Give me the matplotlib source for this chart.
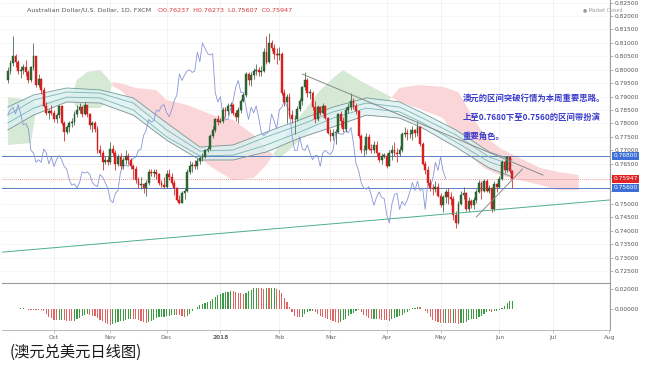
import numpy as np
import pandas as pd
import matplotlib
matplotlib.use("Agg")
import matplotlib.pyplot as plt

CJK = ['Noto Sans CJK SC', 'DejaVu Sans']

# daily AUD/USD candles, 2017-09-06 .. 2018-06-08 (weekdays)
first_open = 0.7960
closes = [
    # Sep
    0.7995, 0.8025, 0.8050, 0.8030, 0.7995, 0.8000, 0.8010, 0.7990, 0.7960, 0.8010,
    0.8050, 0.7945, 0.7965, 0.7925, 0.7865, 0.7840, 0.7845, 0.7840,
    # Oct
    0.7815, 0.7830, 0.7865, 0.7800, 0.7770, 0.7785, 0.7800, 0.7805, 0.7835, 0.7850,
    0.7860, 0.7835, 0.7870, 0.7835, 0.7795, 0.7800, 0.7780, 0.7700, 0.7690, 0.7655,
    0.7665, 0.7655,
    # Nov
    0.7705, 0.7690, 0.7650, 0.7675, 0.7640, 0.7665, 0.7680, 0.7665, 0.7640, 0.7630,
    0.7590, 0.7570, 0.7575, 0.7560, 0.7580, 0.7620, 0.7615, 0.7620, 0.7610, 0.7580,
    0.7570, 0.7565,
    # Dec
    0.7610, 0.7600, 0.7580, 0.7560, 0.7515, 0.7505, 0.7540, 0.7550, 0.7620, 0.7640,
    0.7645, 0.7640, 0.7660, 0.7670, 0.7675, 0.7700, 0.7705, 0.7755, 0.7775, 0.7815,
    0.7805,
    # Jan
    0.7810, 0.7850, 0.7845, 0.7865, 0.7870, 0.7840, 0.7825, 0.7850, 0.7885, 0.7905,
    0.7985, 0.7960, 0.7980, 0.7995, 0.8000, 0.7990, 0.7995, 0.8065, 0.8030, 0.8100,
    0.8080, 0.8060, 0.8055,
    # Feb
    0.8060, 0.7915, 0.7880, 0.7900, 0.7830, 0.7815, 0.7815, 0.7855, 0.7885, 0.7935,
    0.7960, 0.7915, 0.7915, 0.7860, 0.7815, 0.7860, 0.7840, 0.7865, 0.7820, 0.7765,
    # Mar
    0.7755, 0.7765, 0.7770, 0.7835, 0.7810, 0.7780, 0.7850, 0.7860, 0.7885, 0.7865,
    0.7845, 0.7755, 0.7700, 0.7700, 0.7750, 0.7705, 0.7700, 0.7720, 0.7690, 0.7665,
    0.7680, 0.7680,
    # Apr
    0.7640, 0.7690, 0.7700, 0.7690, 0.7685, 0.7700, 0.7760, 0.7765, 0.7760, 0.7760,
    0.7775, 0.7765, 0.7785, 0.7725, 0.7650, 0.7625, 0.7580, 0.7560, 0.7555, 0.7565,
    0.7530,
    # May
    0.7495, 0.7525, 0.7545, 0.7525, 0.7520, 0.7460, 0.7430, 0.7500, 0.7535, 0.7540,
    0.7480, 0.7510, 0.7495, 0.7515, 0.7545, 0.7580, 0.7550, 0.7585, 0.7550, 0.7560,
    0.7480, 0.7575, 0.7565,
    # Jun
    0.7595, 0.7655, 0.7625, 0.7675, 0.76237, 0.75947,
]
highs = [
    0.8010, 0.8035, 0.8125, 0.8060, 0.8035, 0.8015, 0.8020, 0.8035, 0.8000, 0.8015,
    0.8100, 0.8050, 0.7985, 0.7970, 0.7935, 0.7880, 0.7855, 0.7870,
    0.7850, 0.7840, 0.7870, 0.7870, 0.7810, 0.7795, 0.7810, 0.7820, 0.7845, 0.7870,
    0.7875, 0.7865, 0.7880, 0.7870, 0.7840, 0.7810, 0.7810, 0.7790, 0.7720, 0.7700,
    0.7680, 0.7680,
    0.7730, 0.7720, 0.7700, 0.7685, 0.7690, 0.7675, 0.7700, 0.7690, 0.7670, 0.7650,
    0.7640, 0.7600, 0.7600, 0.7580, 0.7590, 0.7630, 0.7630, 0.7630, 0.7630, 0.7615,
    0.7590, 0.7600,
    0.7625, 0.7630, 0.7615, 0.7590, 0.7565, 0.7535, 0.7550, 0.7560, 0.7630, 0.7660,
    0.7655, 0.7665, 0.7670, 0.7680, 0.7690, 0.7705, 0.7715, 0.7760, 0.7790, 0.7820,
    0.7830,
    0.7820, 0.7860, 0.7860, 0.7875, 0.7880, 0.7875, 0.7850, 0.7860, 0.7890, 0.7915,
    0.7990, 0.7990, 0.7990, 0.8005, 0.8020, 0.8010, 0.8015, 0.8080, 0.8125, 0.8135,
    0.8110, 0.8095, 0.8080,
    0.8085, 0.8065, 0.7930, 0.7910, 0.7915, 0.7850, 0.7830, 0.7865, 0.7895, 0.7940,
    0.7990, 0.7970, 0.7930, 0.7920, 0.7885, 0.7870, 0.7865, 0.7875, 0.7870, 0.7825,
    0.7780, 0.7780, 0.7780, 0.7840, 0.7845, 0.7825, 0.7860, 0.7875, 0.7915, 0.7895,
    0.7875, 0.7850, 0.7760, 0.7720, 0.7765, 0.7760, 0.7725, 0.7735, 0.7735, 0.7695,
    0.7690, 0.7690,
    0.7690, 0.7700, 0.7720, 0.7730, 0.7710, 0.7715, 0.7770, 0.7785, 0.7780, 0.7780,
    0.7790, 0.7780, 0.7810, 0.7790, 0.7730, 0.7660, 0.7640, 0.7595, 0.7575, 0.7585,
    0.7580,
    0.7540, 0.7535, 0.7555, 0.7560, 0.7545, 0.7530, 0.7475, 0.7510, 0.7550, 0.7565,
    0.7545, 0.7525, 0.7520, 0.7525, 0.7555, 0.7590, 0.7585, 0.7595, 0.7595, 0.7570,
    0.7565, 0.7585, 0.7580,
    0.7605, 0.7665, 0.7665, 0.7680, 0.7677, 0.76273,
]
lows = [
    0.7950, 0.7985, 0.8015, 0.8010, 0.7985, 0.7970, 0.7985, 0.7975, 0.7950, 0.7955,
    0.8000, 0.7935, 0.7935, 0.7910, 0.7860, 0.7830, 0.7815, 0.7830,
    0.7805, 0.7800, 0.7820, 0.7795, 0.7735, 0.7760, 0.7770, 0.7785, 0.7795, 0.7825,
    0.7840, 0.7825, 0.7830, 0.7825, 0.7780, 0.7770, 0.7770, 0.7690, 0.7680, 0.7625,
    0.7650, 0.7645,
    0.7650, 0.7680, 0.7625, 0.7640, 0.7630, 0.7630, 0.7650, 0.7650, 0.7630, 0.7595,
    0.7580, 0.7560, 0.7555, 0.7540, 0.7530, 0.7570, 0.7605, 0.7600, 0.7595, 0.7570,
    0.7565, 0.7560,
    0.7560, 0.7590, 0.7570, 0.7535, 0.7510, 0.7500, 0.7505, 0.7520, 0.7545, 0.7610,
    0.7620, 0.7630, 0.7630, 0.7650, 0.7660, 0.7670, 0.7695, 0.7700, 0.7745, 0.7770,
    0.7795,
    0.7800, 0.7800, 0.7825, 0.7830, 0.7840, 0.7830, 0.7810, 0.7800, 0.7840, 0.7880,
    0.7900, 0.7945, 0.7940, 0.7965, 0.7980, 0.7975, 0.7975, 0.7990, 0.8020, 0.8025,
    0.8070, 0.8040, 0.8020,
    0.8035, 0.7905, 0.7865, 0.7800, 0.7820, 0.7800, 0.7760, 0.7810, 0.7845, 0.7870,
    0.7925, 0.7900, 0.7890, 0.7850, 0.7800, 0.7810, 0.7830, 0.7835, 0.7815, 0.7760,
    0.7735, 0.7740, 0.7725, 0.7765, 0.7785, 0.7770, 0.7770, 0.7840, 0.7850, 0.7855,
    0.7835, 0.7745, 0.7690, 0.7680, 0.7685, 0.7700, 0.7690, 0.7690, 0.7680, 0.7655,
    0.7650, 0.7670,
    0.7635, 0.7640, 0.7665, 0.7680, 0.7655, 0.7680, 0.7695, 0.7750, 0.7740, 0.7745,
    0.7740, 0.7750, 0.7755, 0.7715, 0.7645, 0.7610, 0.7570, 0.7550, 0.7535, 0.7545,
    0.7525,
    0.7490, 0.7470, 0.7505, 0.7500, 0.7495, 0.7440, 0.7412, 0.7425, 0.7495, 0.7520,
    0.7475, 0.7470, 0.7485, 0.7480, 0.7505, 0.7540, 0.7520, 0.7545, 0.7545, 0.7540,
    0.7470, 0.7475, 0.7545,
    0.7560, 0.7590, 0.7615, 0.7620, 0.7615, 0.75607,
]

# ichimoku cloud (bar index, span A, span B)
cloud_idx = [0, 9, 11, 25, 27, 31, 36, 39, 41, 45, 50, 58, 62, 70, 75, 80, 88, 96, 101,
             106, 110, 116, 122, 127, 131, 137, 143, 149, 153, 160, 170, 176, 180, 186,
             192, 200, 208, 215, 223]
span_a = [0.7898, 0.7887, 0.7869, 0.7906, 0.7962, 0.7992, 0.7999, 0.7969, 0.7939, 0.7917,
          0.7850, 0.7820, 0.7757, 0.7701, 0.7671, 0.7634, 0.7589, 0.7597, 0.7645,
          0.7720, 0.7776, 0.7850, 0.7924, 0.7969, 0.7999, 0.7962, 0.7932, 0.7902,
          0.7880, 0.7857, 0.7820, 0.7738, 0.7682, 0.7634, 0.7608, 0.7589, 0.7571,
          0.7552, 0.7552]
span_b = [0.7720, 0.7727, 0.7850, 0.7887, 0.7857, 0.7857, 0.7857, 0.7887, 0.7954, 0.7947,
          0.7932, 0.7924, 0.7887, 0.7869, 0.7850, 0.7831, 0.7813, 0.7757, 0.7701,
          0.7671, 0.7701, 0.7757, 0.7813, 0.7831, 0.7850, 0.7865, 0.7876, 0.7887,
          0.7932, 0.7943, 0.7936, 0.7917, 0.7850, 0.7757, 0.7709, 0.7671, 0.7634,
          0.7619, 0.7608]

# moving-average ribbon (four lines)
ribbon_idx = [0, 10, 23, 36, 49, 62, 75, 88, 101, 114, 127, 140, 153, 162, 175, 188, 197]
ribbon_1 = [0.7861, 0.7906, 0.7932, 0.7925, 0.7895, 0.7802, 0.7712, 0.7720, 0.7768,
            0.7813, 0.7861, 0.7895, 0.7880, 0.7839, 0.7776, 0.7694, 0.7664]
ribbon_2 = [0.7831, 0.7887, 0.7917, 0.7913, 0.7876, 0.7776, 0.7697, 0.7701, 0.7750,
            0.7794, 0.7843, 0.7876, 0.7861, 0.7820, 0.7757, 0.7675, 0.7645]
ribbon_3 = [0.7802, 0.7857, 0.7898, 0.7895, 0.7850, 0.7750, 0.7679, 0.7682, 0.7720,
            0.7768, 0.7820, 0.7857, 0.7843, 0.7802, 0.7731, 0.7657, 0.7627]
ribbon_4 = [0.7776, 0.7831, 0.7880, 0.7876, 0.7831, 0.7738, 0.7664, 0.7664, 0.7694,
            0.7746, 0.7787, 0.7831, 0.7820, 0.7783, 0.7712, 0.7634, 0.7601]

# drawn lines: (bar index, price) pairs
resist_line = [(115, 0.7984), (209, 0.7608)]
support_line = [(-2, 0.7321), (235, 0.7515)]
short_line = [(183, 0.7452), (201, 0.7630)]
levels = [0.7680, 0.7560]

price_ticks = [0.725 + 0.005 * k for k in range(21)]
month_starts = ["2017-10-01", "2017-11-01", "2017-12-01", "2018-01-01", "2018-02-01",
                "2018-03-01", "2018-04-01", "2018-05-01", "2018-06-01", "2018-07-01",
                "2018-08-01"]
month_labels = ["Oct", "Nov", "Dec", "2018", "Feb", "Mar", "Apr", "May", "Jun", "Jul", "Aug"]

note_lines = ["澳元的区间突破行情为本周重要思路。",
              "上至0.7680下至0.7560的区间带扮演",
              "重要角色。"]
caption = "(澳元兑美元日线图)"

closes = np.array(closes)
highs = np.array(highs)
lows = np.array(lows)
opens = np.r_[first_open, closes[:-1]]
idx = np.arange(len(closes))
axis_days = pd.bdate_range("2017-09-06", "2018-08-10")
month_pos = [axis_days.searchsorted(pd.Timestamp(m)) for m in month_starts]

# awesome oscillator
median = pd.Series((highs + lows) / 2)
ao = (median.rolling(5, min_periods=1).mean() - median.rolling(34, min_periods=1).mean()).values
ao_up = np.r_[True, ao[1:] >= ao[:-1]]

W, H = 646, 369
fig = plt.figure(figsize=(W / 100, H / 100), dpi=100)


def rect(x0, y0, x1, y1):
    return [x0 / W, 1 - y1 / H, (x1 - x0) / W, (y1 - y0) / H]


ax = fig.add_axes(rect(2, 0, 610, 283))
ax2 = fig.add_axes(rect(2, 283, 610, 330), sharex=ax)

for a in (ax, ax2):
    for m in month_pos:
        a.axvline(m, color='#efefef', lw=0.5, zorder=0)
for p in price_ticks:
    ax.axhline(p, color='#f3f3f3', lw=0.5, zorder=0)

# cloud
ca, cb = np.array(span_a), np.array(span_b)
ax.fill_between(cloud_idx, ca, cb, where=ca >= cb, interpolate=True,
                color='#d6e9d5', lw=0, zorder=1)
ax.fill_between(cloud_idx, ca, cb, where=ca < cb, interpolate=True,
                color='#fad6d8', lw=0, zorder=1)

# ribbon
ax.fill_between(ribbon_idx, ribbon_1, ribbon_4, color='#dcf1f1', alpha=0.8, lw=0, zorder=2)
for r, c in zip((ribbon_1, ribbon_2, ribbon_3, ribbon_4),
                ('#6f9c9c', '#79b5b5', '#79b5b5', '#7d8f8f')):
    ax.plot(ribbon_idx, r, color=c, lw=0.6, zorder=3)

# lagging line
ax.plot(idx[:-26], closes[26:], color='#8796d8', lw=0.6, zorder=3)

# horizontal levels
for lv in levels:
    ax.axhline(lv, color='#5a7fc0', lw=0.7, zorder=2)
ax.axhline(closes[-1], color='#ef9a9a', lw=0.7, ls=(0, (1, 1)), zorder=2)

# trend lines
for line, c in ((resist_line, '#8a8a8a'), (support_line, '#4caf8a'), (short_line, '#8a8a8a')):
    xs, ys = zip(*line)
    ax.plot(xs, ys, color=c, lw=0.7, zorder=5)

# candles
up = closes >= opens
ax.vlines(idx, lows, highs, colors=np.where(up, '#4d6b50', '#d93030'), lw=0.6, zorder=4)
ax.bar(idx, np.maximum(np.abs(closes - opens), 0.00025), bottom=np.minimum(opens, closes),
       width=0.72, color=np.where(up, '#2d6e36', '#e21f1f'),
       edgecolor=np.where(up, '#1e4a24', '#c41818'), lw=0.3, zorder=4)

ax.set_xlim(-2.3, 235.2)
ax.set_ylim(0.7206, 0.82596)

# oscillator pane
ax2.bar(idx, ao, width=0.45, color=np.where(ao_up, '#3f9a45', '#e06464'), lw=0)
ax2.set_ylim(-0.0215, 0.0266)

# axes styling
for a in (ax, ax2):
    a.yaxis.tick_right()
    for s in ('left', 'top', 'bottom'):
        a.spines[s].set_visible(False)
    a.spines['right'].set_color('#9a9a9a')
    a.spines['right'].set_linewidth(0.7)
    a.tick_params(axis='y', colors='#9a9a9a', labelcolor='#555555', labelsize=4.2,
                  length=2, width=0.5, pad=1.5)
flag_vals = levels + [closes[-1]]
ax.set_yticks(price_ticks)
# labels hidden behind the price flags are left blank, as on the chart
ax.set_yticklabels(["" if min(abs(p - f) for f in flag_vals) < 0.0012 else f"{p:.5f}"
                    for p in price_ticks])
ax.tick_params(axis='x', bottom=False, labelbottom=False)
ax2.spines['top'].set_visible(True)
ax2.spines['top'].set_color('#9a9a9a')
ax2.spines['top'].set_linewidth(0.8)
ax2.spines['bottom'].set_visible(True)
ax2.spines['bottom'].set_color('#b0b0b0')
ax2.spines['bottom'].set_linewidth(0.6)
ax2.set_yticks([0.0, 0.02])
ax2.set_yticklabels(["0.00000", "0.02000"])
ax2.set_xticks(month_pos)
ax2.set_xticklabels(month_labels)
ax2.tick_params(axis='x', labelsize=4.2, labelcolor='#666666', color='#b0b0b0',
                length=2, width=0.5, pad=1.5)
for t in ax2.get_xticklabels():
    if t.get_text() == "2018":
        t.set_fontweight('bold')

# price flags on the right axis
ytr = ax.get_yaxis_transform()
for val, fc in ((levels[0], '#3d6fd6'), (closes[-1], '#e02424'), (levels[1], '#3d6fd6')):
    ax.text(1.006, val, f"{val:.5f}", transform=ytr, fontsize=4.2, color='white',
            va='center', ha='left', clip_on=False,
            bbox=dict(boxstyle='square,pad=0.25', fc=fc, ec='none'))

# header
fig.text(27 / W, 1 - 10 / H, "Australian Dollar/U.S. Dollar, 1D, FXCM", fontsize=4.6,
         color='#555555', va='center')
fig.text(158 / W, 1 - 10 / H, f"O{opens[-1]:.5f}  H{highs[-1]:.5f}  L{lows[-1]:.5f}  C{closes[-1]:.5f}",
         fontsize=4.6, color='#d33a3a', va='center')
fig.text(583 / W, 1 - 10 / H, "● Market Closed", fontsize=3.4, color='#999999', va='center')

# note
for k, line in enumerate(note_lines):
    fig.text(463 / W, 1 - (98 + 19 * k) / H, line, fontsize=6, color='#3a3ccc',
             fontweight='bold', va='center', family=CJK)

fig.text(10 / W, 1 - 352 / H, caption, fontsize=11, color='#1a1a1a', va='center', family=CJK)

fig.savefig("out.png", dpi=100, facecolor='white')
